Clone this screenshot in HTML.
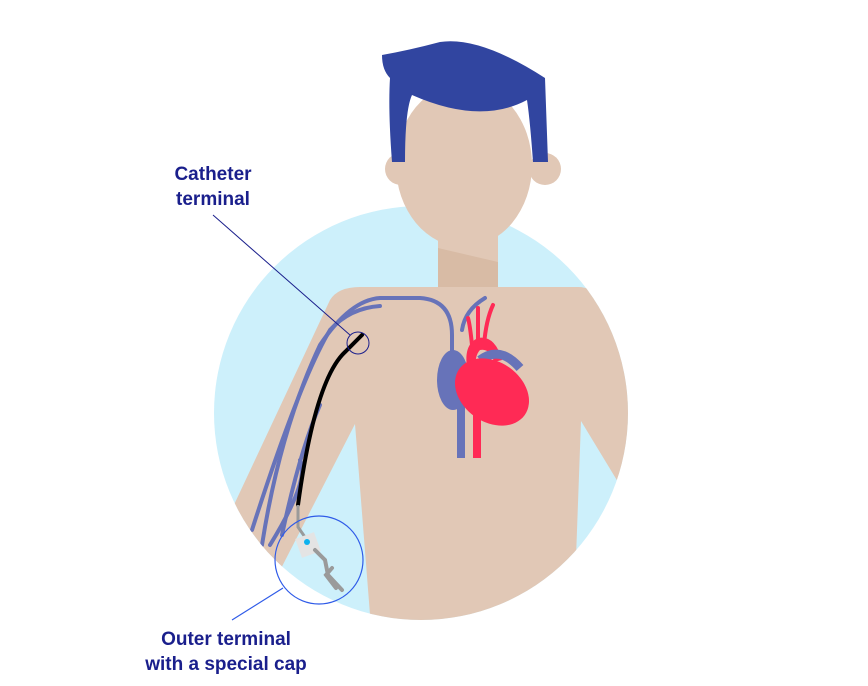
<!DOCTYPE html>
<html><head><meta charset="utf-8"><style>
html,body{margin:0;padding:0;background:#fff;width:868px;height:686px;overflow:hidden}
svg{display:block}
text{font-family:"Liberation Sans",sans-serif;font-weight:bold;fill:#1a1f8c;font-size:19px}
</style></head><body>
<svg width="868" height="686" viewBox="0 0 868 686">
<defs><clipPath id="c"><circle cx="421" cy="413" r="207"/></clipPath></defs>
<circle cx="421" cy="413" r="207" fill="#cdf0fb"/>
<g clip-path="url(#c)">
<path d="M438,215 L498,215 L498,295 L438,295Z" fill="#e1c8b6"/>
<path d="M438,248 L498,262 L498,290 L438,290Z" fill="#d8bba5"/>
<path d="M360,287 L578,287 Q592,287 598,298 L660,410 L660,520 L618,482 L581,421 L573,640 L372,640 L355,424 L270,590 L180,620 L330,300 Q338,287 360,287Z" fill="#e1c8b6"/>
<g fill="none" stroke="#6773b9" stroke-width="4" stroke-linecap="round">
<path d="M252,530 Q300,380 330,330 Q350,308 380,306"/>
<path d="M262,545 Q280,430 320,345 Q350,300 380,298 L420,298 Q452,300 452,335 L452,360"/>
<path d="M282,535 Q300,450 320,405"/>
<path d="M270,545 Q310,480 300,460"/>
<path d="M462,330 Q465,310 485,298"/>
</g>
<path d="M461,380 L461,458" stroke="#6773b9" stroke-width="8"/>
<ellipse cx="453" cy="380" rx="16" ry="30" fill="#6773b9"/>
<g fill="none" stroke="#ff2a55" stroke-width="4" stroke-linecap="round">
<path d="M472,345 Q470,325 468,318"/><path d="M478,345 L478,308"/><path d="M484,345 Q486,320 493,305"/>
</g>
<path d="M468,372 Q462,345 478,338 Q495,335 502,360 L494,362 Q490,348 480,350 Q474,356 476,372Z" fill="#ff2a55"/>
<path d="M480,360 Q500,345 520,368" stroke="#6773b9" stroke-width="9" fill="none"/>
<path d="M477,400 L477,458" stroke="#ff2a55" stroke-width="8"/>
<ellipse cx="492" cy="392" rx="40" ry="30" transform="rotate(35 492 392)" fill="#ff2a55"/>
<path d="M298,505 Q315,380 345,352 L362,335" stroke="#000" stroke-width="4" fill="none" stroke-linecap="round"/>
<path d="M298,505 L298,527 L307,540" stroke="#9a9a9a" stroke-width="3" fill="none"/>
<rect x="298" y="535" width="20" height="20" fill="#e4e4e4" transform="rotate(-20 308 545)"/>
<circle cx="307" cy="542" r="3" fill="#0db2ef"/>
<path d="M315,550 L325,560 L328,575 L342,590 M332,568 L326,575 L336,588" stroke="#9a9a9a" stroke-width="4" fill="none" stroke-linecap="round"/>
</g>
<circle cx="401" cy="169" r="16" fill="#e1c8b6"/>
<circle cx="545" cy="169" r="16" fill="#e1c8b6"/>
<ellipse cx="464" cy="165" rx="68" ry="82" fill="#e1c8b6"/>
<path d="M382,55 Q410,50 440,42 Q480,36 545,78 L548,162 L533,162 Q530,120 527,100 Q480,125 412,95 Q405,110 405,162 L392,162 Q388,110 390,78 Q382,70 382,55Z" fill="#3145a0"/>
<line x1="213" y1="215" x2="350" y2="335" stroke="#1a1f8c" stroke-width="1"/>
<circle cx="358" cy="343" r="11" fill="none" stroke="#1a1f8c" stroke-width="1"/>
<circle cx="319" cy="560" r="44" fill="none" stroke="#2f5be8" stroke-width="1.2"/>
<line x1="283" y1="588" x2="232" y2="620" stroke="#2f5be8" stroke-width="1.2"/>
<text x="213" y="180" text-anchor="middle">Catheter</text>
<text x="213" y="205" text-anchor="middle">terminal</text>
<text x="226" y="645" text-anchor="middle">Outer terminal</text>
<text x="226" y="670" text-anchor="middle">with a special cap</text>
</svg>
</body></html>
